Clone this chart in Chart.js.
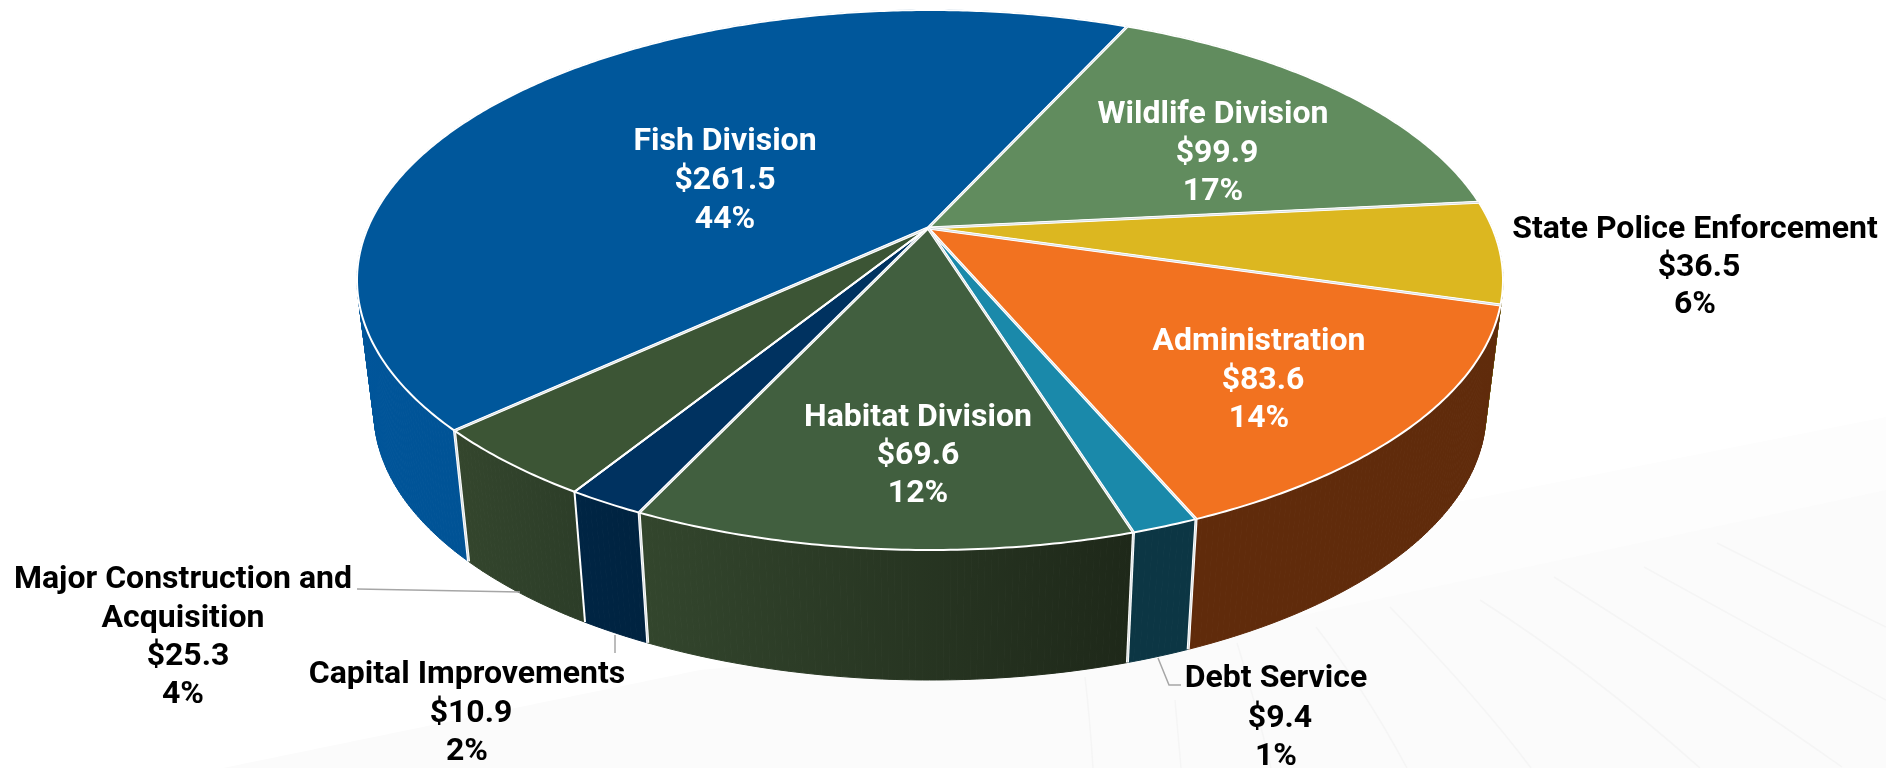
<!DOCTYPE html>
<html>
<head>
<meta charset="utf-8">
<title>Budget by division</title>
<script src="https://cdn.jsdelivr.net/npm/chart.js@4"></script>
<style>
  html, body { margin: 0; padding: 0; background: #fff; overflow: hidden; }
  canvas { display: block; }
</style>
</head>
<body>
<canvas id="grafico" width="1886" height="768"></canvas>
<script>
// dados
const categorias = ['Fish Division', 'Wildlife Division', 'State Police Enforcement', 'Administration', 'Debt Service', 'Habitat Division', 'Capital Improvements', 'Major Construction and Acquisition']
const valores = [261.5, 99.9, 36.5, 83.6, 9.4, 69.6, 10.9, 25.3]

// cores: topo da fatia e parede lateral (esquerda -> direita)
const coresTopo = ['#00579b', '#618c5e', '#dcb720', '#f27220', '#1a89aa', '#415f3f', '#003260', '#3c5535']
const coresParedeA = ['#00559a', '#466644', '#6e5b10', '#602b0b', '#0c3644', '#33462d', '#002544', '#34462d']
const coresParedeB = ['#004478', '#466644', '#6e5b10', '#602b0b', '#0c3644', '#1e2819', '#002340', '#2c3d28']
// divisa que aparece dupla na imagem (inicio da fatia i)
const divisaDupla = [true, true, true, true, true, true, true, false]

// rotulos: linhas de texto, centro x, y de cada linha, cor
const rotulos = [
  { linhas: ['Fish Division', '$261.5', '44%'], x: [725, 725, 725], y: [142, 181, 220], cor: '#fff' },
  { linhas: ['Wildlife Division', '$99.9', '17%'], x: [1213, 1217, 1213], y: [115, 154, 192], cor: '#fff' },
  { linhas: ['State Police Enforcement', '$36.5', '6%'], x: [1695, 1699, 1695], y: [230, 268, 305], cor: '#000' },
  { linhas: ['Administration', '$83.6', '14%'], x: [1259, 1263, 1259], y: [342, 381, 419], cor: '#fff' },
  { linhas: ['Habitat Division', '$69.6', '12%'], x: [918, 918, 918], y: [418, 456, 494], cor: '#fff' },
  { linhas: ['Major Construction and', 'Acquisition', '$25.3', '4%'], x: [183, 183, 188, 183], y: [580, 619, 657, 695], cor: '#000' },
  { linhas: ['Capital Improvements', '$10.9', '2%'], x: [467, 471, 467], y: [675, 714, 752], cor: '#000' },
  { linhas: ['Debt Service', '$9.4', '1%'], x: [1276, 1280, 1276], y: [679, 719, 757], cor: '#000' }
]

// linhas de chamada
const chamadas = [
  [[357, 589], [520, 592]],
  [[615, 635], [615, 653]],
  [[1158, 658], [1169, 685], [1181, 685]]
]

// traços quase invisiveis do fundo, canto de baixo
const raios = [
  [1390, 607, 1480, 700, 1531, 768], [1480, 600, 1590, 670, 1700, 768], [1554, 577, 1723, 683, 1842, 767],
  [1644, 567, 1763, 633, 1886, 700], [1717, 543, 1800, 585, 1886, 627], [1316, 627, 1365, 690, 1407, 768],
  [1237, 643, 1255, 700, 1271, 768], [1085, 677, 1090, 720, 1093, 768], [1175, 700, 1178, 735, 1181, 768]
]

// geometria da pizza "3d": elipse de cima, elipse de baixo, e deslocamento do vertice (perspectiva)
const topo = { cx: 930, cy: 280, rx: 573, ry: 270 }
const base = { cx: 930, cy: 412, rx: 556, ry: 268 }
const vertice = [928, 228]
const b = (225 - topo.cy) / topo.ry
const s = Math.sqrt(1 - b * b)

// leva um angulo do circulo pra elipse com perspectiva
function projeta(ang, e) {
  const X = Math.cos(ang), Y = Math.sin(ang)
  const d = 1 + b * Y
  return [e.cx + e.rx * X * s / d, e.cy + e.ry * (Y + b) / d]
}

function arco(a1, a2, e) {
  const pts = []
  const n = Math.max(2, Math.ceil((a2 - a1) / 0.01))
  for (let i = 0; i <= n; i++) pts.push(projeta(a1 + (a2 - a1) * i / n, e))
  return pts
}

function caminho(ctx, pts, fechar) {
  ctx.beginPath()
  pts.forEach((p, i) => i ? ctx.lineTo(p[0], p[1]) : ctx.moveTo(p[0], p[1]))
  if (fechar) ctx.closePath()
}

function divisa(ctx, p1, p2, cor, dupla) {
  caminho(ctx, [p1, p2])
  ctx.strokeStyle = '#fff'
  ctx.lineWidth = dupla ? 3 : 2
  ctx.stroke()
  if (dupla) {
    caminho(ctx, [p1, p2])
    ctx.strokeStyle = cor
    ctx.globalAlpha = 0.45
    ctx.lineWidth = 0.8
    ctx.stroke()
    ctx.globalAlpha = 1
  }
}

const fundo = {
  id: 'fundo',
  beforeDraw(chart) {
    const ctx = chart.ctx
    ctx.save()
    ctx.fillStyle = '#fff'
    ctx.fillRect(0, 0, 1886, 768)
    // faixas bem claras no canto de baixo
    ctx.fillStyle = '#fdfdfd'
    caminho(ctx, [[1000, 640], [1452, 503], [1886, 417], [1886, 768], [1000, 768]], true)
    ctx.fill()
    ctx.fillStyle = '#fbfbfb'
    caminho(ctx, [[223, 768], [700, 670], [1294, 617], [1886, 490], [1886, 768]], true)
    ctx.fill()
    ctx.strokeStyle = '#f5f5f5'
    ctx.lineWidth = 1.5
    raios.forEach(r => {
      ctx.beginPath()
      ctx.moveTo(r[0], r[1])
      ctx.quadraticCurveTo(r[2], r[3], r[4], r[5])
      ctx.stroke()
    })
    ctx.restore()
  }
}

// desenha as fatias do chart.js com os angulos calculados pelo proprio controller
const pizza3d = {
  id: 'pizza3d',
  beforeDatasetsDraw(chart) {
    const ctx = chart.ctx
    const arcos = chart.getDatasetMeta(0).data
    ctx.save()
    ctx.lineJoin = 'round'

    // paredes: de tras pra frente, em tiras finas pra fechar a silhueta nos lados
    const ordem = arcos.map((a, i) => i).sort((i, j) =>
      Math.sin((arcos[i].startAngle + arcos[i].endAngle) / 2) - Math.sin((arcos[j].startAngle + arcos[j].endAngle) / 2))
    ordem.forEach(i => {
      const a = arcos[i]
      const cima = arco(a.startAngle, a.endAngle, topo)
      const baixo = arco(a.startAngle, a.endAngle, base)
      const xs = cima.concat(baixo).map(p => p[0])
      const grad = ctx.createLinearGradient(Math.min(...xs), 0, Math.max(...xs), 0)
      grad.addColorStop(0, coresParedeA[i])
      grad.addColorStop(1, coresParedeB[i])
      ctx.fillStyle = grad
      ctx.strokeStyle = grad
      ctx.lineWidth = 1
      for (let k = 0; k < cima.length - 1; k++) {
        caminho(ctx, [cima[k], cima[k + 1], baixo[k + 1], baixo[k]], true)
        ctx.fill()
        ctx.stroke()
      }
    })
    // divisas verticais na frente
    arcos.forEach((a, i) => {
      if (Math.sin(a.startAngle) > 0.35) divisa(ctx, projeta(a.startAngle, topo), projeta(a.startAngle, base), '#8fa0a8', divisaDupla[i])
    })

    // topo
    arcos.forEach((a, i) => {
      caminho(ctx, [vertice].concat(arco(a.startAngle, a.endAngle, topo)), true)
      ctx.fillStyle = coresTopo[i]
      ctx.fill()
      ctx.strokeStyle = '#fff'
      ctx.lineWidth = 2
      ctx.stroke()
    })
    arcos.forEach((a, i) => {
      divisa(ctx, vertice, projeta(a.startAngle, topo), '#8fa0a8', divisaDupla[i])
    })
    ctx.restore()
    return false
  },
  afterDraw(chart) {
    const ctx = chart.ctx
    ctx.save()
    ctx.strokeStyle = '#a6a6a6'
    ctx.lineWidth = 1.5
    chamadas.forEach(c => {
      caminho(ctx, c)
      ctx.stroke()
    })
    ctx.font = 'bold 32px Roboto'
    ctx.textAlign = 'center'
    ctx.textBaseline = 'middle'
    rotulos.forEach(r => {
      ctx.fillStyle = r.cor
      r.linhas.forEach((t, i) => ctx.fillText(t, r.x[i], r.y[i]))
    })
    ctx.restore()
  }
}

new Chart(document.getElementById('grafico').getContext('2d'), {
  type: 'pie',
  data: {
    labels: categorias,
    datasets: [{ data: valores, backgroundColor: coresTopo, borderColor: '#fff', borderWidth: 2 }]
  },
  options: {
    responsive: false,
    animation: false,
    devicePixelRatio: 1,
    rotation: 226.85,
    events: [],
    plugins: { legend: { display: false }, tooltip: { enabled: false } }
  },
  plugins: [fundo, pizza3d]
})
</script>
</body>
</html>
